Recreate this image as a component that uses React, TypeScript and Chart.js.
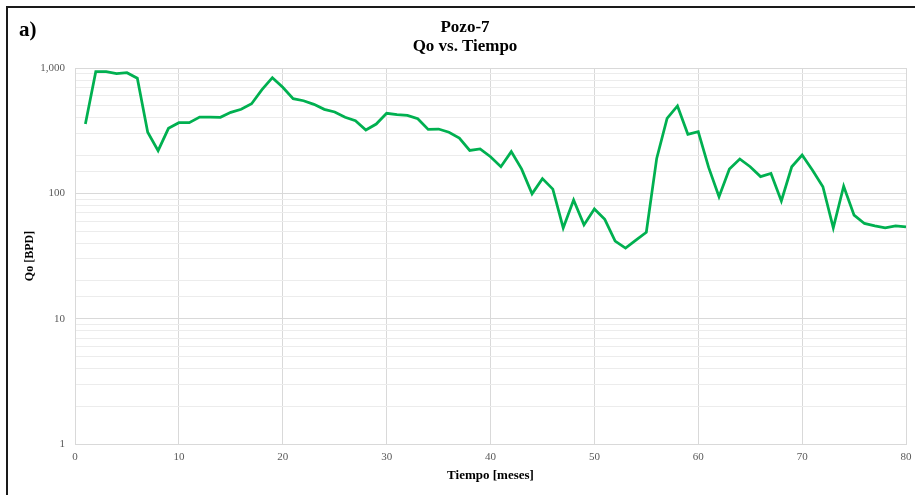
import React, { useEffect, useRef } from "react";
import { Chart, registerables } from "chart.js";

Chart.register(...registerables);

const months = [
  1, 2, 3, 4, 5, 6, 7, 8, 9, 10, 11, 12, 13, 14, 15, 16, 17, 18, 19, 20,
  21, 22, 23, 24, 25, 26, 27, 28, 29, 30, 31, 32, 33, 34, 35, 36, 37, 38, 39, 40,
  41, 42, 43, 44, 45, 46, 47, 48, 49, 50, 51, 52, 53, 54, 55, 56, 57, 58, 59, 60,
  61, 62, 63, 64, 65, 66, 67, 68, 69, 70, 71, 72, 73, 74, 75, 76, 77, 78, 79, 80,
];

const qo = [
  357, 934, 934, 901, 917, 828, 307, 219, 330, 366,
  366, 406, 406, 404, 443, 468, 519, 671, 837, 701,
  569, 548, 513, 468, 446, 404, 380, 320, 357, 435,
  424, 419, 394, 324, 326, 307, 276, 220, 226, 196,
  163, 215, 156, 99, 131, 108, 53, 88.5, 56, 75,
  62, 41.6, 36.6, 42.4, 48.9, 190, 397, 498, 296, 311,
  161, 94, 156, 188, 163, 136, 144, 87, 163, 202,
  153, 113, 53, 114, 67, 57.5, 55, 53, 55, 54,
];

const xTicks = [0, 10, 20, 30, 40, 50, 60, 70, 80];
const yLabelTicks = [1, 10, 100, 1000];

const chartTitle = ["Pozo-7", "Qo vs. Tiempo"];
const panelLabel = "a)";
const xTitle = "Tiempo [meses]";
const yTitle = "Qo [BPD]";

const SERIF = "'Liberation Serif', 'Times New Roman', serif";

export default function App() {
  const canvasRef = useRef<HTMLCanvasElement | null>(null);

  useEffect(() => {
    const canvas = canvasRef.current;
    if (!canvas) return;
    const isDecade = (v: number) => {
      const l = Math.log10(v);
      return Math.abs(l - Math.round(l)) < 1e-9;
    };
    const chart = new Chart(canvas, {
      type: "line",
      data: {
        datasets: [
          {
            data: months.map((m, i) => ({ x: m, y: qo[i] })),
            borderColor: "#00B050",
            backgroundColor: "#00B050",
            borderWidth: 2.75,
            pointRadius: 0,
            tension: 0,
            fill: false,
          },
        ],
      },
      options: {
        animation: false,
        responsive: false,
        maintainAspectRatio: false,
        layout: { padding: { left: 0, right: 9, top: 68, bottom: 0 } },
        plugins: {
          legend: { display: false },
          tooltip: { enabled: false },
          title: { display: false },
        },
        scales: {
          x: {
            type: "linear",
            min: 0,
            max: 80,
            afterFit: (s: any) => {
              s.height = 51;
              s.paddingLeft = 0;
              s.paddingRight = 0;
            },
            afterBuildTicks: (s: any) => {
              s.ticks = xTicks.map((v) => ({ value: v }));
            },
            ticks: {
              padding: 7,
              color: "#595959",
              font: { family: SERIF, size: 11 },
              maxRotation: 0,
              autoSkip: false,
            },
            grid: {
              color: "#d9d9d9",
              lineWidth: 1,
              drawTicks: false,
            },
            border: { color: "#d9d9d9", width: 1 },
            title: {
              display: true,
              text: xTitle,
              color: "#000",
              font: { family: SERIF, size: 13, weight: "bold" },
              padding: { top: 0, bottom: 12 },
            },
          },
          y: {
            type: "logarithmic",
            min: 1,
            max: 1000,
            afterFit: (s: any) => {
              s.width = 75;
              s.paddingTop = 0;
              s.paddingBottom = 0;
            },
            ticks: {
              autoSkip: false,
              padding: 10,
              color: "#595959",
              font: { family: SERIF, size: 11 },
              callback: (v: any) => {
                const n = Number(v);
                return yLabelTicks.includes(n) ? n.toLocaleString("en-US") : "";
              },
            },
            grid: {
              drawTicks: false,
              lineWidth: 1,
              color: (ctx: any) =>
                ctx.tick && isDecade(ctx.tick.value) ? "#d9d9d9" : "#ececec",
            },
            border: { color: "#d9d9d9", width: 1 },
            title: {
              display: true,
              text: yTitle,
              color: "#000",
              font: { family: SERIF, size: 12, weight: "bold" },
              padding: { top: 23, bottom: 0 },
            },
          },
        },
      },
    } as any);
    return () => chart.destroy();
  }, []);

  return (
    <div
      style={{
        position: "fixed",
        left: 0,
        top: 0,
        width: 915,
        height: 495,
        background: "#fff",
        overflow: "hidden",
      }}
    >
      <div
        style={{
          position: "absolute",
          left: 6,
          top: 6,
          width: 909,
          height: 500,
          borderTop: "2px solid #1a1a1a",
          borderLeft: "2px solid #1a1a1a",
          boxSizing: "border-box",
        }}
      />
      <canvas
        ref={canvasRef}
        width={915}
        height={495}
        style={{ position: "absolute", left: 0, top: 0, width: 915, height: 495 }}
      />
      <div
        style={{
          position: "absolute",
          left: 19,
          top: 17,
          fontFamily: SERIF,
          fontWeight: "bold",
          fontSize: 21,
          lineHeight: "24px",
          color: "#000",
        }}
      >
        {panelLabel}
      </div>
      <div
        style={{
          position: "absolute",
          left: 315,
          top: 17,
          width: 300,
          textAlign: "center",
          fontFamily: SERIF,
          fontWeight: "bold",
          fontSize: 17,
          lineHeight: "19px",
          color: "#000",
        }}
      >
        {chartTitle.map((t) => (
          <div key={t}>{t}</div>
        ))}
      </div>
    </div>
  );
}
